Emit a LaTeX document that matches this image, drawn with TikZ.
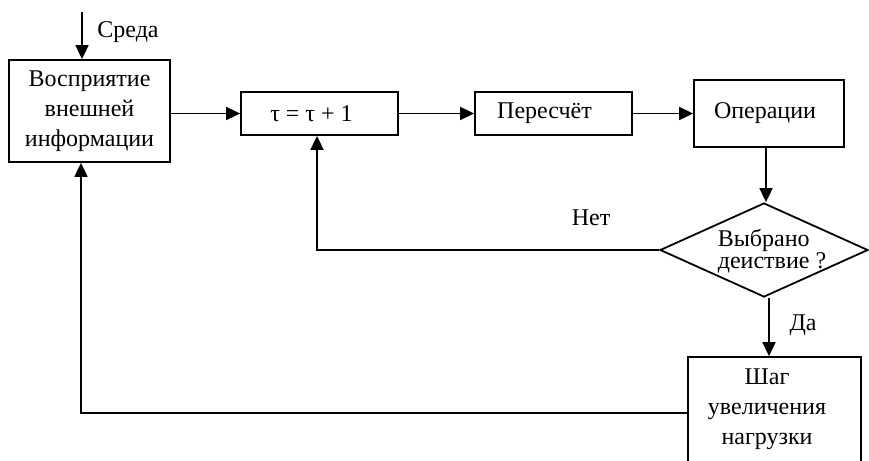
\documentclass[tikz,border=0pt]{standalone}
\usepackage{fontspec}
\setmainfont{Liberation Serif}
\usetikzlibrary{arrows.meta,shapes.geometric}
\begin{document}
\begin{tikzpicture}[x=1pt,y=-1pt,
  every node/.style={font=\fontsize{24}{30}\selectfont},
  box/.style={draw,line width=1.8pt,align=center,inner sep=0pt},
  conn/.style={line width=1.8pt},
  arr/.style={conn,-{Triangle[length=14pt,width=13pt]}},
  lbl/.style={inner sep=0pt}]
\useasboundingbox (0,0) rectangle (869,460);
\clip (0,0) rectangle (869,460);

% blocks of the loop
\node[box,minimum width=161pt,minimum height=102pt] (perc) at (89.5,111)
  {Восприятие\\внешней\\информации};
\node[box,minimum width=157pt,minimum height=43pt] (tick) at (319.5,113.5)
  {\hspace*{-16pt}τ = τ + 1};
\node[box,minimum width=157pt,minimum height=43pt] (recalc) at (553.5,113.5)
  {\hspace*{-18pt}Пересчёт};
\node[box,minimum width=150pt,minimum height=67pt] (ops) at (769,113.5)
  {\hspace*{-8pt}Операции};
\node[draw,line width=1.8pt,inner sep=0pt,minimum width=208pt,minimum height=94pt,
  shape=diamond,shape aspect=2.2] (choice) at (764,250) {};
\node[lbl,align=left,font=\fontsize{24}{22}\selectfont] (choicetxt) at (772,251)
  {Выбрано\\деиствие ?};
\node[box,minimum width=173pt,minimum height=112pt] (load) at (774.5,413) {};
\node[lbl,align=center] (loadtxt) at (767,409) {Шаг\\увеличения\\нагрузки};

% input from the environment
\coordinate (env) at (82,12);
\node[lbl] (envlbl) at (128,32) {Среда};
\draw[arr] (env) -- (env |- perc.north);

% main chain
\draw[arr] (perc.east |- tick) -- (tick.west);
\draw[arr] (tick) -- (recalc);
\draw[arr] (recalc) -- (ops);
\draw[arr] (ops.south -| 766,0) -- (766,0 |- choice.north);

% "no" branch back to the counter
\coordinate (nocorner) at (317,250);
\draw[arr] (choice.west) -- (nocorner) -- (nocorner |- tick.south);
\node[lbl] (nolbl) at (591,218) {Нет};

% "yes" branch to the load step
\draw[arr] (choice.south -| 769,0) -- (769,0 |- load.north);
\node[lbl] (yeslbl) at (803,325) {Да};

% feedback to perception
\coordinate (backcorner) at (81,413);
\draw[arr] (load.west) -- (backcorner) -- (backcorner |- perc.south);
\end{tikzpicture}
\end{document}
